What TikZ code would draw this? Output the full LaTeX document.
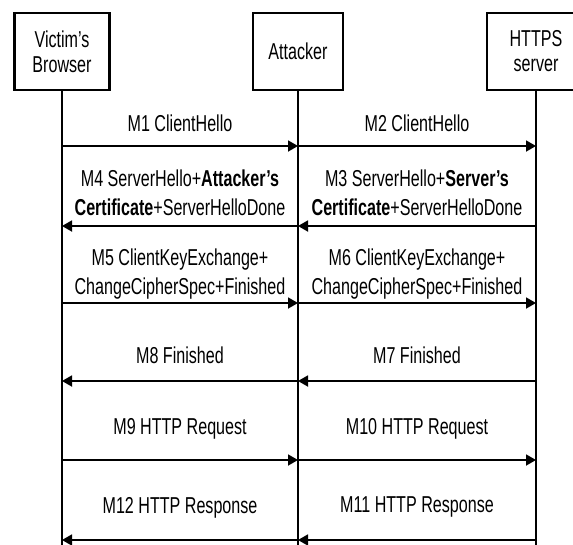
\documentclass[tikz,border=0pt]{standalone}
\usepackage{fontspec}
\setmainfont[FakeStretch=0.7]{Liberation Sans}
\usetikzlibrary{arrows.meta}

\tikzset{
  actor/.style={draw, line width=2.4pt, minimum height=77pt, align=center, inner sep=0pt, font=\fontsize{23}{25}\selectfont},
  life/.style={line width=1.8pt},
  msg/.style={line width=1.8pt, -{Triangle[length=10pt,width=11pt]}},
  lbl/.style={align=center, inner sep=0pt, text depth=0pt}
}

\begin{document}
\begin{tikzpicture}[x=1pt, y=-1pt, font=\fontsize{23}{29}\selectfont]
\useasboundingbox (0,0) rectangle (573,544);
\clip (0,0) rectangle (573,544);

% the three parties
\node [actor, minimum width=95pt] (vic) at (62,51.5) {Victim's\\Browser};
\node [actor, minimum width=90pt] (att) at (298,51.5) {Attacker};
\node [actor, minimum width=98pt] (srv) at (536,51.5) {HTTPS\\server};

\coordinate (vicend) at (62,548);
\coordinate (attend) at (298,548);
\coordinate (srvend) at (536,548);
\draw [life] (vic) -- (vicend);
\draw [life] (att) -- (attend);
\draw [life] (srv) -- (srvend);

% one row of points per message
\foreach \y [count=\i] in {146,226,303,381,460,540} {
  \coordinate (v\i) at (62,\y);
  \coordinate (a\i) at (298,\y);
  \coordinate (s\i) at (536,\y);
}

\draw [msg] (v1) -- (a1);
\draw [msg] (a1) -- (s1);
\draw [msg] (a2) -- (v2);
\draw [msg] (s2) -- (a2);
\draw [msg] (v3) -- (a3);
\draw [msg] (a3) -- (s3);
\draw [msg] (a4) -- (v4);
\draw [msg] (s4) -- (a4);
\draw [msg] (v5) -- (a5);
\draw [msg] (a5) -- (s5);
\draw [msg] (a6) -- (v6);
\draw [msg] (s6) -- (a6);

% message labels
\node [lbl] (m1) at (180,123) {M1 ClientHello};
\node [lbl] (m2) at (417,123) {M2 ClientHello};
\node [lbl] (m4) at (180,192.5) {M4 ServerHello+\textbf{Attacker's}\\\textbf{Certificate}+ServerHelloDone};
\node [lbl] (m3) at (417,192.5) {M3 ServerHello+\textbf{Server's}\\\textbf{Certificate}+ServerHelloDone};
\node [lbl] (m5) at (180,271.5) {M5 ClientKeyExchange+\\ChangeCipherSpec+Finished};
\node [lbl] (m6) at (417,271.5) {M6 ClientKeyExchange+\\ChangeCipherSpec+Finished};
\node [lbl] (m8) at (180,355) {M8 Finished};
\node [lbl] (m7) at (417,355) {M7 Finished};
\node [lbl] (m9) at (180,426) {M9 HTTP Request};
\node [lbl] (m10) at (417,426) {M10 HTTP Request};
\node [lbl] (m12) at (180,505) {M12 HTTP Response};
\node [lbl] (m11) at (417,505) {M11 HTTP Response};
\end{tikzpicture}
\end{document}
